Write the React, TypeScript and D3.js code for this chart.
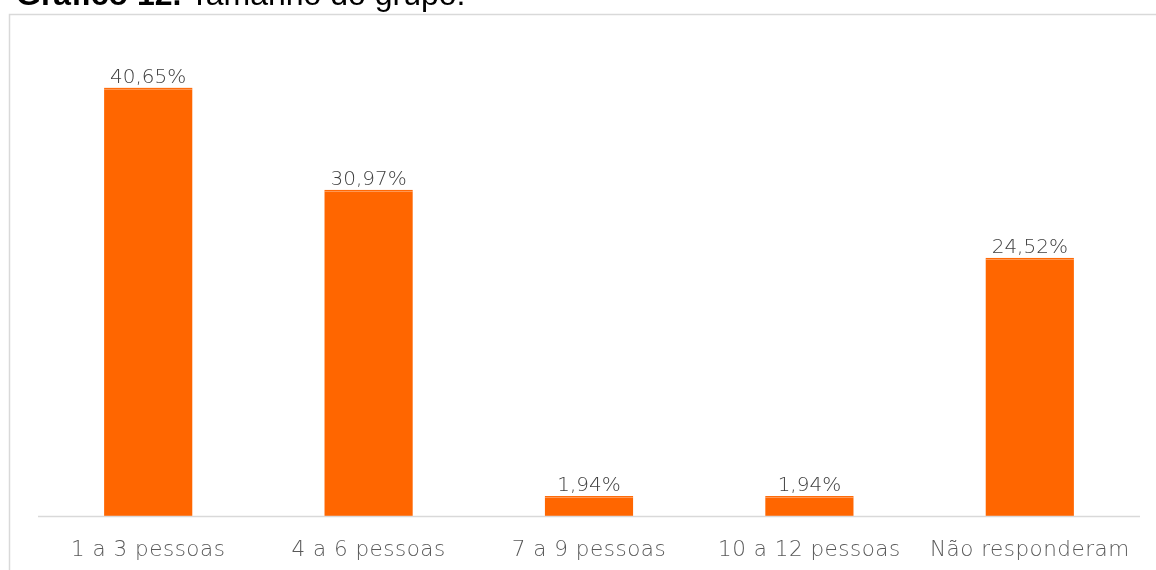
import React from "react";
import * as d3 from "d3";

const categories = ["1 a 3 pessoas", "4 a 6 pessoas", "7 a 9 pessoas", "10 a 12 pessoas", "Não responderam"];
const values = [40.65, 30.97, 1.94, 1.94, 24.52];
const valueLabels = ["40,65%", "30,97%", "1,94%", "1,94%", "24,52%"];

const W = 1156;
const H = 570;

export default function App() {
  const x = d3.scaleBand<string>().domain(categories).range([38, 1140]).paddingInner(0.6).paddingOuter(0.3);
  const y = d3.scaleLinear().domain([0, 45]).range([516.5, 42]);
  const labelFont = "'DejaVu Sans', sans-serif";
  return (
    <div style={{ position: "fixed", left: 0, top: 0 }}>
      <svg width={W} height={H} style={{ display: "block" }}>
        <rect x={0} y={0} width={W} height={H} fill="#fff" />
        <rect x={9.5} y={14.5} width={1300} height={700} fill="#fff" stroke="#d9d9d9" strokeWidth={1.5} />
        <text x={16} y={5} fontFamily="'Liberation Sans', Arial, sans-serif" fontSize={32} fill="#000">
          <tspan fontWeight="bold">Gráfico 12.</tspan>
          <tspan> Tamanho do grupo.</tspan>
        </text>
        {categories.map((c, i) => {
          const bx = x(c)!;
          const by = y(values[i]);
          return (
            <g key={c}>
              <rect x={bx} y={by} width={x.bandwidth()} height={y(0) - by} fill="#FF6600" />
              <line x1={bx} x2={bx + x.bandwidth()} y1={by + 1.5} y2={by + 1.5} stroke="#ffffff" strokeOpacity={0.35} strokeWidth={1} />
              <text x={bx + x.bandwidth() / 2} y={by - 5} textAnchor="middle" fontFamily={labelFont} fontWeight={300} fontSize={20} fill="#404040">
                {valueLabels[i]}
              </text>
              <text x={bx + x.bandwidth() / 2} y={556} textAnchor="middle" fontFamily={labelFont} fontWeight={300} fontSize={21.5} letterSpacing={0.5} fill="#595959">
                {c}
              </text>
            </g>
          );
        })}
        <line x1={38} x2={1140} y1={y(0)} y2={y(0)} stroke="#d9d9d9" strokeWidth={1.5} />
      </svg>
    </div>
  );
}
